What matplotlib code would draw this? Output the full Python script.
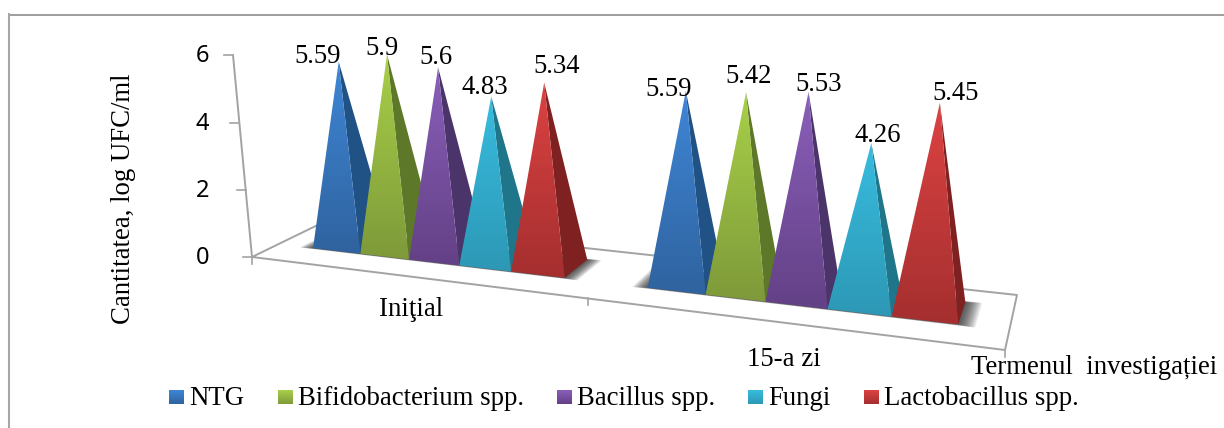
import matplotlib
matplotlib.use('Agg')
import matplotlib.pyplot as plt
import numpy as np
from matplotlib.colors import LinearSegmentedColormap
from matplotlib.patches import Polygon

# Data
categories = ['Iniţial', '15-a zi']
series = ['NTG', 'Bifidobacterium spp.', 'Bacillus spp.', 'Fungi', 'Lactobacillus spp.']
labels_initial = ['5.59', '5.9', '5.6', '4.83', '5.34']
labels_day15 = ['5.59', '5.42', '5.53', '4.26', '5.45']
# heights, the first day 15 pyramid is drawn lower than its label says
heights_initial = [5.59, 5.9, 5.6, 4.83, 5.34]
heights_day15 = [5.35, 5.42, 5.53, 4.26, 5.45]
y_ticks = [0, 2, 4, 6]

# Colours: top of front face, bottom of front face, side face
top_colors = ['#3F86D6', '#A8D048', '#8A5FBA', '#38BCDE', '#DC4242']
bottom_colors = ['#2F639F', '#7E9A3A', '#634186', '#2D98B6', '#A52F2F']
side_colors = ['#215286', '#5E7829', '#4B3469', '#1F758A', '#7E2120']

# Label centres in pixels, placed by hand in the original
label_pos_initial = [(318, 56), (382, 48), (436, 57), (485, 87), (557, 66)]
label_pos_day15 = [(669, 89), (749, 76), (819, 84), (878, 135), (956, 93)]

SERIF = 'Liberation Serif'
GRAY = '#A3A3A3'
TXT = 19.3

fig = plt.figure(figsize=(12.24, 4.28), dpi=100)
ax = fig.add_axes([0, 0, 1, 1])

# Floor homography: (u, d) with u in 0..2 along categories and d in 0..1 in depth
corners = dict(fl=(252, 257), fr=(1005, 350), br=(1017, 295), bl=(328, 220))
G, H = -0.196, 0.0963


def floor(u, d):
    s = u / 2
    x0, y0 = corners['fl']
    x1, y1 = corners['fr']
    x3, y3 = corners['bl']
    w = G * s + H * d + 1
    x = ((x1 - x0 + G * x1) * s + (x3 - x0 + H * x3) * d + x0) / w
    y = ((y1 - y0 + G * y1) * s + (y3 - y0 + H * y3) * d + y0) / w
    return np.array([x, y])


def lift(u, d, value):
    # verticals meet in a vanishing point far below the chart
    x, y = floor(u, d)
    k = 32 + 0.0095 * (x - 336) + 4 * (0.6 - d)
    top_y = y - value * k
    return np.array([x - (688 - x) * (y - top_y) / (4890 - y), top_y])


def grad_poly(pts, c_top, c_bottom, z):
    pts = np.array(pts)
    cmap = LinearSegmentedColormap.from_list('f', [c_top, c_bottom])
    im = ax.imshow(np.linspace(0, 1, 64).reshape(-1, 1), cmap=cmap, aspect='auto',
                   extent=(pts[:, 0].min(), pts[:, 0].max(), pts[:, 1].max(), pts[:, 1].min()),
                   zorder=z)
    im.set_clip_path(Polygon(pts, transform=ax.transData))


# Outer frame
ax.plot([9, 1224], [14.5, 14.5], color='#8C8C8C', lw=1.2, zorder=1)
ax.plot([9, 9], [14, 428], color='#A6A6A6', lw=1.5, zorder=1)

# Floor and axes
outline = [floor(0, 0), floor(2, 0), floor(2, 1), floor(0, 1), floor(0, 0)]
ax.plot(*np.array(outline).T, color=GRAY, lw=1.4, zorder=1)
for u in [0, 1, 2]:
    x, y = floor(u, 0)
    ax.plot([x, x], [y, y + 7], color=GRAY, lw=1.2, zorder=1)

axis_pts = np.array([lift(0, 0, v) for v in [0, 6]])
ax.plot(axis_pts[:, 0], axis_pts[:, 1], color=GRAY, lw=1.4, zorder=1)
for v in y_ticks:
    x, y = lift(0, 0, v)
    ax.plot([x - 9, x], [y, y], color=GRAY, lw=1.2, zorder=1)
    ax.text(209, y + 1, str(v), family='Noto Sans', fontsize=17, ha='right', va='center', color='black')

# Pyramids
bar_w = 0.154
d_front, d_back = 0.33, 0.75
for c, (heights, labels, label_pos) in enumerate([
        (heights_initial, labels_initial, label_pos_initial),
        (heights_day15, labels_day15, label_pos_day15)]):
    u_left = c + 0.5 - 2.5 * bar_w
    # soft shadow under the group
    for grow in np.linspace(0.04, 0.0, 24):
        front = d_front - 0.5 * grow
        back = d_back + 0.5 * grow
        shadow = [floor(u_left - grow, front), floor(u_left + 5 * bar_w + grow, front),
                  floor(u_left + 5 * bar_w + grow, back), floor(u_left - grow, back)]
        ax.add_patch(Polygon(shadow, facecolor='#222222', edgecolor='none', alpha=0.05, zorder=2))
    for i, value in enumerate(heights):
        u0 = u_left + i * bar_w
        u1 = u0 + bar_w
        apex = lift((u0 + u1) / 2, (d_front + d_back) / 2, value)
        z = 3 + i * 0.1
        ax.add_patch(Polygon([floor(u1, d_front), floor(u1, d_back), apex],
                             facecolor=side_colors[i], edgecolor='none', zorder=z))
        grad_poly([floor(u0, d_front), floor(u1, d_front), apex], top_colors[i], bottom_colors[i], z + 0.01)
        ax.text(label_pos[i][0], label_pos[i][1], labels[i], family=SERIF, fontsize=TXT,
                ha='center', va='center', color='black', zorder=10)

# Axis texts
ax.text(124, 199, 'Cantitatea, log UFC/ml', family=SERIF, fontsize=TXT, rotation=90,
        ha='center', va='center')
ax.text(411, 310, categories[0], family=SERIF, fontsize=TXT, ha='center', va='center')
ax.text(784, 360, categories[1], family=SERIF, fontsize=TXT, ha='center', va='center')
ax.text(1094, 374, 'Termenul  investigației', family=SERIF, fontsize=TXT, ha='center', va='baseline')

# Legend
swatch_x = [169, 278, 557, 748, 864]
text_x = [189, 298, 577, 768, 884]
for i, name in enumerate(series):
    grad_poly([(swatch_x[i], 390), (swatch_x[i] + 15, 390), (swatch_x[i] + 15, 404), (swatch_x[i], 404)],
              top_colors[i], bottom_colors[i], 3)
    ax.text(text_x[i], 405, name, family=SERIF, fontsize=TXT, ha='left', va='baseline')

ax.set_xlim(0, 1224)
ax.set_ylim(428, 0)
ax.axis('off')
fig.savefig('out.png', dpi=100)
